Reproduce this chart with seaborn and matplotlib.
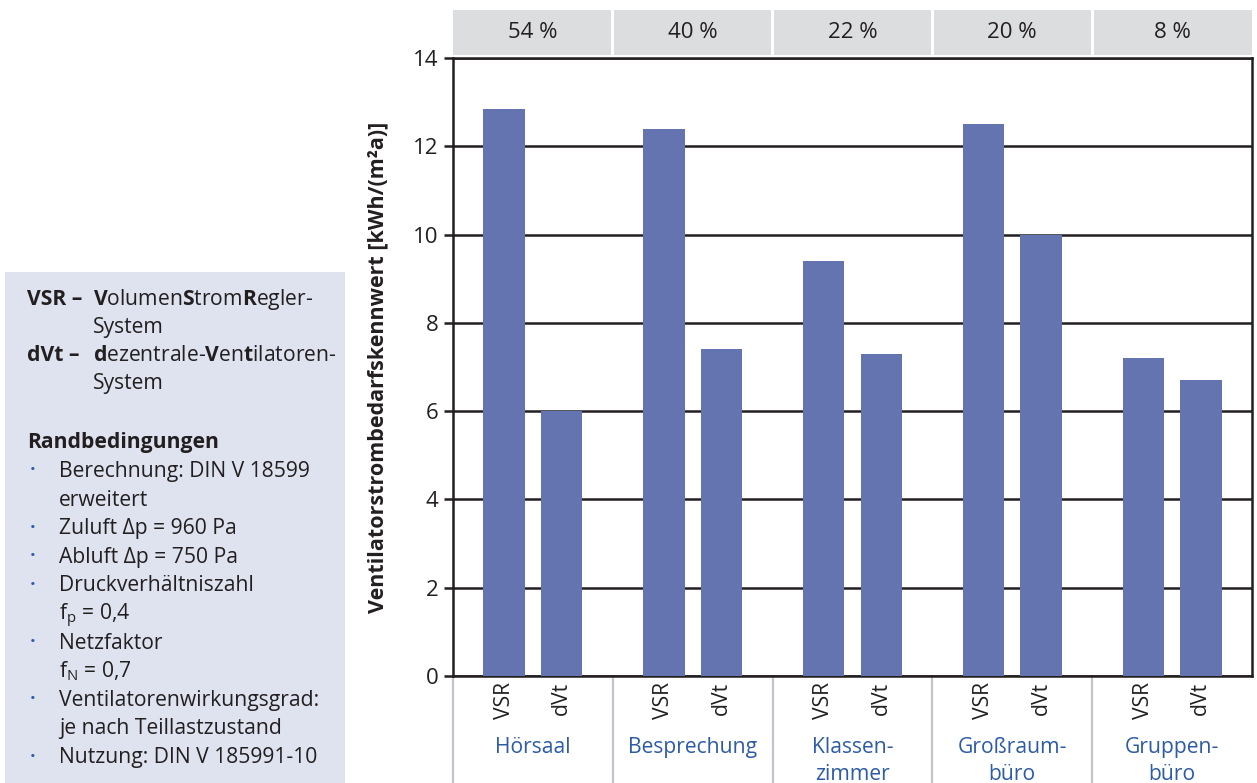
import matplotlib
matplotlib.use("Agg")
import matplotlib.pyplot as plt
from matplotlib.patches import Rectangle
import pandas as pd
import seaborn as sns

# --- data -------------------------------------------------------------------
raeume = ["Hörsaal", "Besprechung", "Klassen-\nzimmer", "Großraum-\nbüro", "Gruppen-\nbüro"]
anteile = ["54 %", "40 %", "22 %", "20 %", "8 %"]
systeme = ["VSR", "dVt"]
vsr_werte = [12.85, 12.4, 9.4, 12.5, 7.2]
dvt_werte = [6.0, 7.4, 7.3, 10.0, 6.7]
y_ticks = [0, 2, 4, 6, 8, 10, 12, 14]
y_label = "Ventilatorstrombedarfskennwert [kWh/(m²a)]"

legende = [
    ("VSR –", r"$\mathbf{V}$olumen$\mathbf{S}$trom$\mathbf{R}$egler-", "System"),
    ("dVt –", r"$\mathbf{d}$ezentrale-$\mathbf{V}$en$\mathbf{t}$ilatoren-", "System"),
]
bedingungen_titel = "Randbedingungen"
bedingungen = [
    ["Berechnung: DIN V 18599", "erweitert"],
    ["Zuluft Δp = 960 Pa"],
    ["Abluft Δp = 750 Pa"],
    ["Druckverhältniszahl", r"f$_{\mathrm{p}}$ = 0,4"],
    ["Netzfaktor", r"f$_{\mathrm{N}}$ = 0,7"],
    ["Ventilatorenwirkungsgrad:", "je nach Teillastzustand"],
    ["Nutzung: DIN V 185991-10"],
]

df = pd.DataFrame({
    "Raum": raeume * 2,
    "System": [systeme[0]] * len(raeume) + [systeme[1]] * len(raeume),
    "Wert": vsr_werte + dvt_werte,
})

# --- style ------------------------------------------------------------------
BAR = "#6474b0"
DARK = "#231f20"
BLUE = "#2d5ba8"
HEAD = "#dcdddf"
BOX = "#dfe3f0"
SEP = "#c4c4c8"
FS = 15.2

sns.set_theme(style="white")
plt.rcParams["font.family"] = ["Open Sans", "DejaVu Sans"]
plt.rcParams["mathtext.fontset"] = "custom"
plt.rcParams["mathtext.rm"] = "Open Sans"
plt.rcParams["mathtext.it"] = "Open Sans:italic"
plt.rcParams["mathtext.bf"] = "Open Sans:bold"

W, H = 1257, 783
fig = plt.figure(figsize=(W / 100, H / 100), dpi=100)
fig.patch.set_facecolor("white")

ax_l, ax_r, ax_t, ax_b = 453, 1252, 58, 676
ax = fig.add_axes([ax_l / W, 1 - ax_b / H, (ax_r - ax_l) / W, (ax_b - ax_t) / H])

def fx(px):
    return px / W

def fy(py):
    return 1 - py / H

# --- bars -------------------------------------------------------------------
sns.barplot(data=df, x="Raum", y="Wert", hue="System", order=raeume,
            hue_order=systeme, palette=[BAR, BAR], width=0.72, gap=0.28,
            saturation=1, legend=False, ax=ax, zorder=3, linewidth=0,
            edgecolor=BAR)

ax.set_xlim(-0.5, len(raeume) - 0.5)
ax.set_ylim(0, 14)
ax.set_yticks(y_ticks)
ax.set_yticklabels([str(t) for t in y_ticks], fontsize=16, color=DARK)
ax.set_xticks([])
ax.set_xlabel("")
ax.yaxis.grid(True, color=DARK, linewidth=1.8, zorder=1)
ax.set_axisbelow(True)
for sp in ax.spines.values():
    sp.set_color(DARK)
    sp.set_linewidth(1.8)
    sp.set_visible(True)
ax.tick_params(axis="y", which="major", left=True, length=6.5, width=1.8,
               color=DARK, pad=4)
ax.set_ylabel(y_label, fontsize=15.5, fontweight="bold", color=DARK)
ax.yaxis.set_label_coords((388 - ax_l) / (ax_r - ax_l), 0.5)

# --- header boxes with shares -------------------------------------------------
xtr = ax.get_xaxis_transform()
y0 = (ax_b - 55) / (ax_b - ax_t)
y1 = (ax_b - 10) / (ax_b - ax_t)
yc = (ax_b - 33) / (ax_b - ax_t)
n = len(raeume)
for i, txt in enumerate(anteile):
    left = i - 0.5 + (0.009 if i > 0 else 0)
    right = i + 0.5 - (0.009 if i < n - 1 else 0)
    ax.add_patch(Rectangle((left, y0), right - left, y1 - y0, transform=xtr,
                           facecolor=HEAD, edgecolor="none", clip_on=False))
    ax.text(i, yc, txt, transform=xtr, ha="center", va="center",
            fontsize=16, color=DARK)

# --- category labels below axis ---------------------------------------------
dodge = 0.18
for i, name in enumerate(raeume):
    for s, off in zip(systeme, (-dodge, dodge)):
        ax.text(i + off, (ax_b - 682) / (ax_b - ax_t), s, transform=xtr,
                rotation=90, ha="center", va="top", fontsize=FS, color=DARK)
    for k, line in enumerate(name.split("\n")):
        ax.text(i, (ax_b - (753 + 27 * k)) / (ax_b - ax_t), line, transform=xtr,
                ha="center", va="baseline", fontsize=FS, color=BLUE)
for i in range(n):
    ax.plot([i - 0.5, i - 0.5], [0, -(H - ax_b) / (ax_b - ax_t)], transform=xtr,
            color=SEP, linewidth=1.6, clip_on=False, zorder=0)

# --- left info box ------------------------------------------------------------
fig.patches.append(Rectangle((fx(5), 0), fx(345) - fx(5), fy(272),
                             transform=fig.transFigure, facecolor=BOX,
                             edgecolor="none", zorder=0))
base = 305
for kurz, lang, zweite in legende:
    fig.text(fx(27), fy(base), kurz, fontsize=FS, fontweight="bold",
             color=DARK, va="baseline")
    fig.text(fx(93), fy(base), lang, fontsize=FS, color=DARK, va="baseline")
    fig.text(fx(93), fy(base + 28), zweite, fontsize=FS, color=DARK, va="baseline")
    base += 56

fig.text(fx(27), fy(448), bedingungen_titel, fontsize=FS, fontweight="bold",
         color=DARK, va="baseline")
base = 477
for item in bedingungen:
    fig.text(fx(33), fy(base - 6), "•", fontsize=11, color=BLUE,
             ha="center", va="center")
    for line in item:
        fig.text(fx(59), fy(base), line, fontsize=FS, color=DARK, va="baseline")
        base += 28.6

fig.savefig("out.png", dpi=100, facecolor="white")
